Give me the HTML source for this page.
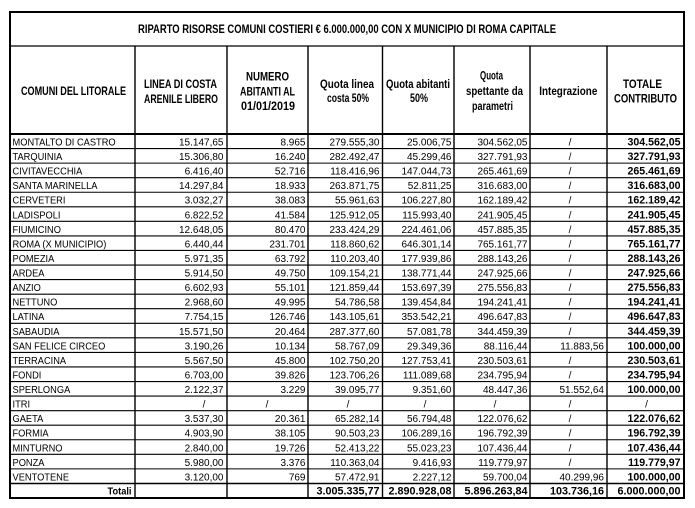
<!DOCTYPE html>
<html><head><meta charset="utf-8"><style>
html,body{margin:0;padding:0;background:#fff;}
svg{display:block;}
text{font-family:"Liberation Sans",Arial,sans-serif;fill:#000;}
.h{font-weight:bold;font-size:11.5px;}
.n{font-size:10px;}
.b{font-size:10.6px;font-weight:bold;}
</style></head><body>
<svg width="695" height="508" viewBox="0 0 695 508" xmlns="http://www.w3.org/2000/svg">
<rect x="0" y="0" width="695" height="508" fill="#fff"/>
<g stroke="#000" fill="none">
<line x1="10" y1="46" x2="684" y2="46" stroke-width="1.3"/>
<line x1="10" y1="134" x2="684" y2="134" stroke-width="2"/>
<g stroke-width="1.1">
<line x1="10" y1="148.56" x2="684" y2="148.56"/>
<line x1="10" y1="163.12" x2="684" y2="163.12"/>
<line x1="10" y1="177.68" x2="684" y2="177.68"/>
<line x1="10" y1="192.24" x2="684" y2="192.24"/>
<line x1="10" y1="206.8" x2="684" y2="206.8"/>
<line x1="10" y1="221.36" x2="684" y2="221.36"/>
<line x1="10" y1="235.92" x2="684" y2="235.92"/>
<line x1="10" y1="250.48" x2="684" y2="250.48"/>
<line x1="10" y1="265.04" x2="684" y2="265.04"/>
<line x1="10" y1="279.6" x2="684" y2="279.6"/>
<line x1="10" y1="294.16" x2="684" y2="294.16"/>
<line x1="10" y1="308.72" x2="684" y2="308.72"/>
<line x1="10" y1="323.28" x2="684" y2="323.28"/>
<line x1="10" y1="337.84" x2="684" y2="337.84"/>
<line x1="10" y1="352.4" x2="684" y2="352.4"/>
<line x1="10" y1="366.96" x2="684" y2="366.96"/>
<line x1="10" y1="381.52" x2="684" y2="381.52"/>
<line x1="10" y1="396.08" x2="684" y2="396.08"/>
<line x1="10" y1="410.64" x2="684" y2="410.64"/>
<line x1="10" y1="425.2" x2="684" y2="425.2"/>
<line x1="10" y1="439.76" x2="684" y2="439.76"/>
<line x1="10" y1="454.32" x2="684" y2="454.32"/>
<line x1="10" y1="468.88" x2="684" y2="468.88"/>
</g>
<line x1="10" y1="483.44" x2="684" y2="483.44" stroke-width="1.5"/>
<g stroke-width="1.4">
<line x1="135" y1="46" x2="135" y2="498"/>
<line x1="227" y1="46" x2="227" y2="498"/>
<line x1="308" y1="46" x2="308" y2="498"/>
<line x1="382.5" y1="46" x2="382.5" y2="498"/>
<line x1="454" y1="46" x2="454" y2="498"/>
<line x1="530" y1="46" x2="530" y2="498"/>
<line x1="607" y1="46" x2="607" y2="498"/>
</g>
<rect x="10" y="12" width="674" height="486" stroke-width="2"/>
</g>

<text class="h" x="347" y="33" text-anchor="middle" textLength="418" lengthAdjust="spacingAndGlyphs">RIPARTO RISORSE COMUNI COSTIERI € 6.000.000,00 CON X MUNICIPIO DI ROMA CAPITALE</text>

<text class="h" x="73.5" y="95" text-anchor="middle" textLength="105" lengthAdjust="spacingAndGlyphs">COMUNI DEL LITORALE</text>
<text class="h" x="180.5" y="88" text-anchor="middle" textLength="73" lengthAdjust="spacingAndGlyphs">LINEA DI COSTA</text>
<text class="h" x="181" y="103" text-anchor="middle" textLength="74" lengthAdjust="spacingAndGlyphs">ARENILE LIBERO</text>
<text class="h" x="267.5" y="80.5" text-anchor="middle" textLength="43" lengthAdjust="spacingAndGlyphs">NUMERO</text>
<text class="h" x="267.5" y="95.5" text-anchor="middle" textLength="55" lengthAdjust="spacingAndGlyphs">ABITANTI AL</text>
<text class="h" x="268" y="110" text-anchor="middle" textLength="54" lengthAdjust="spacingAndGlyphs">01/01/2019</text>
<text class="h" x="347" y="88" text-anchor="middle" textLength="54" lengthAdjust="spacingAndGlyphs">Quota linea</text>
<text class="h" x="348" y="102" text-anchor="middle" textLength="42" lengthAdjust="spacingAndGlyphs">costa 50%</text>
<text class="h" x="418" y="88" text-anchor="middle" textLength="64" lengthAdjust="spacingAndGlyphs">Quota abitanti</text>
<text class="h" x="419" y="102" text-anchor="middle" textLength="18" lengthAdjust="spacingAndGlyphs">50%</text>
<text class="h" x="491.5" y="79.5" text-anchor="middle" textLength="23" lengthAdjust="spacingAndGlyphs">Quota</text>
<text class="h" x="494.5" y="95" text-anchor="middle" textLength="57" lengthAdjust="spacingAndGlyphs">spettante da</text>
<text class="h" x="492.5" y="110" text-anchor="middle" textLength="41" lengthAdjust="spacingAndGlyphs">parametri</text>
<text class="h" x="568.3" y="95" text-anchor="middle" textLength="58" lengthAdjust="spacingAndGlyphs">Integrazione</text>
<text class="h" x="642.5" y="88" text-anchor="middle" textLength="39" lengthAdjust="spacingAndGlyphs">TOTALE</text>
<text class="h" x="645.5" y="102.5" text-anchor="middle" textLength="63" lengthAdjust="spacingAndGlyphs">CONTRIBUTO</text>

<g transform="translate(12.5,0) scale(0.91,1)" style="font-size:10.2px">
<text x="0" y="145.5">MONTALTO DI CASTRO</text>
<text x="0" y="160">TARQUINIA</text>
<text x="0" y="174.6">CIVITAVECCHIA</text>
<text x="0" y="189.2">SANTA MARINELLA</text>
<text x="0" y="203.7">CERVETERI</text>
<text x="0" y="218.3">LADISPOLI</text>
<text x="0" y="232.9">FIUMICINO</text>
<text x="0" y="247.4">ROMA (X MUNICIPIO)</text>
<text x="0" y="262">POMEZIA</text>
<text x="0" y="276.5">ARDEA</text>
<text x="0" y="291.1">ANZIO</text>
<text x="0" y="305.7">NETTUNO</text>
<text x="0" y="320.2">LATINA</text>
<text x="0" y="334.8">SABAUDIA</text>
<text x="0" y="349.4">SAN FELICE CIRCEO</text>
<text x="0" y="363.9">TERRACINA</text>
<text x="0" y="378.5">FONDI</text>
<text x="0" y="393">SPERLONGA</text>
<text x="0" y="407.6">ITRI</text>
<text x="0" y="422.2">GAETA</text>
<text x="0" y="436.7">FORMIA</text>
<text x="0" y="451.3">MINTURNO</text>
<text x="0" y="465.9">PONZA</text>
<text x="0" y="480.4">VENTOTENE</text>
</g>
<text class="b" x="131.5" y="494.3" text-anchor="end" textLength="24" lengthAdjust="spacingAndGlyphs" style="font-size:10.5px">Totali</text>

<g class="n" text-anchor="end">
<text x="223.5" y="145.5">15.147,65</text>
<text x="223.5" y="160">15.306,80</text>
<text x="223.5" y="174.6">6.416,40</text>
<text x="223.5" y="189.2">14.297,84</text>
<text x="223.5" y="203.7">3.032,27</text>
<text x="223.5" y="218.3">6.822,52</text>
<text x="223.5" y="232.9">12.648,05</text>
<text x="223.5" y="247.4">6.440,44</text>
<text x="223.5" y="262">5.971,35</text>
<text x="223.5" y="276.5">5.914,50</text>
<text x="223.5" y="291.1">6.602,93</text>
<text x="223.5" y="305.7">2.968,60</text>
<text x="223.5" y="320.2">7.754,15</text>
<text x="223.5" y="334.8">15.571,50</text>
<text x="223.5" y="349.4">3.190,26</text>
<text x="223.5" y="363.9">5.567,50</text>
<text x="223.5" y="378.5">6.703,00</text>
<text x="223.5" y="393">2.122,37</text>
<text x="223.5" y="422.2">3.537,30</text>
<text x="223.5" y="436.7">4.903,90</text>
<text x="223.5" y="451.3">2.840,00</text>
<text x="223.5" y="465.9">5.980,00</text>
<text x="223.5" y="480.4">3.120,00</text>
</g>
<g class="n" text-anchor="end">
<text x="305.5" y="145.5">8.965</text>
<text x="305.5" y="160">16.240</text>
<text x="305.5" y="174.6">52.716</text>
<text x="305.5" y="189.2">18.933</text>
<text x="305.5" y="203.7">38.083</text>
<text x="305.5" y="218.3">41.584</text>
<text x="305.5" y="232.9">80.470</text>
<text x="305.5" y="247.4">231.701</text>
<text x="305.5" y="262">63.792</text>
<text x="305.5" y="276.5">49.750</text>
<text x="305.5" y="291.1">55.101</text>
<text x="305.5" y="305.7">49.995</text>
<text x="305.5" y="320.2">126.746</text>
<text x="305.5" y="334.8">20.464</text>
<text x="305.5" y="349.4">10.134</text>
<text x="305.5" y="363.9">45.800</text>
<text x="305.5" y="378.5">39.826</text>
<text x="305.5" y="393">3.229</text>
<text x="305.5" y="422.2">20.361</text>
<text x="305.5" y="436.7">38.105</text>
<text x="305.5" y="451.3">19.726</text>
<text x="305.5" y="465.9">3.376</text>
<text x="305.5" y="480.4">769</text>
</g>
<g class="n" text-anchor="end">
<text x="379.5" y="145.5">279.555,30</text>
<text x="379.5" y="160">282.492,47</text>
<text x="379.5" y="174.6">118.416,96</text>
<text x="379.5" y="189.2">263.871,75</text>
<text x="379.5" y="203.7">55.961,63</text>
<text x="379.5" y="218.3">125.912,05</text>
<text x="379.5" y="232.9">233.424,29</text>
<text x="379.5" y="247.4">118.860,62</text>
<text x="379.5" y="262">110.203,40</text>
<text x="379.5" y="276.5">109.154,21</text>
<text x="379.5" y="291.1">121.859,44</text>
<text x="379.5" y="305.7">54.786,58</text>
<text x="379.5" y="320.2">143.105,61</text>
<text x="379.5" y="334.8">287.377,60</text>
<text x="379.5" y="349.4">58.767,09</text>
<text x="379.5" y="363.9">102.750,20</text>
<text x="379.5" y="378.5">123.706,26</text>
<text x="379.5" y="393">39.095,77</text>
<text x="379.5" y="422.2">65.282,14</text>
<text x="379.5" y="436.7">90.503,23</text>
<text x="379.5" y="451.3">52.413,22</text>
<text x="379.5" y="465.9">110.363,04</text>
<text x="379.5" y="480.4">57.472,91</text>
</g>
<g class="n" text-anchor="end">
<text x="451.5" y="145.5">25.006,75</text>
<text x="451.5" y="160">45.299,46</text>
<text x="451.5" y="174.6">147.044,73</text>
<text x="451.5" y="189.2">52.811,25</text>
<text x="451.5" y="203.7">106.227,80</text>
<text x="451.5" y="218.3">115.993,40</text>
<text x="451.5" y="232.9">224.461,06</text>
<text x="451.5" y="247.4">646.301,14</text>
<text x="451.5" y="262">177.939,86</text>
<text x="451.5" y="276.5">138.771,44</text>
<text x="451.5" y="291.1">153.697,39</text>
<text x="451.5" y="305.7">139.454,84</text>
<text x="451.5" y="320.2">353.542,21</text>
<text x="451.5" y="334.8">57.081,78</text>
<text x="451.5" y="349.4">29.349,36</text>
<text x="451.5" y="363.9">127.753,41</text>
<text x="451.5" y="378.5">111.089,68</text>
<text x="451.5" y="393">9.351,60</text>
<text x="451.5" y="422.2">56.794,48</text>
<text x="451.5" y="436.7">106.289,16</text>
<text x="451.5" y="451.3">55.023,23</text>
<text x="451.5" y="465.9">9.416,93</text>
<text x="451.5" y="480.4">2.227,12</text>
</g>
<g class="n" text-anchor="end">
<text x="527.5" y="145.5">304.562,05</text>
<text x="527.5" y="160">327.791,93</text>
<text x="527.5" y="174.6">265.461,69</text>
<text x="527.5" y="189.2">316.683,00</text>
<text x="527.5" y="203.7">162.189,42</text>
<text x="527.5" y="218.3">241.905,45</text>
<text x="527.5" y="232.9">457.885,35</text>
<text x="527.5" y="247.4">765.161,77</text>
<text x="527.5" y="262">288.143,26</text>
<text x="527.5" y="276.5">247.925,66</text>
<text x="527.5" y="291.1">275.556,83</text>
<text x="527.5" y="305.7">194.241,41</text>
<text x="527.5" y="320.2">496.647,83</text>
<text x="527.5" y="334.8">344.459,39</text>
<text x="527.5" y="349.4">88.116,44</text>
<text x="527.5" y="363.9">230.503,61</text>
<text x="527.5" y="378.5">234.795,94</text>
<text x="527.5" y="393">48.447,36</text>
<text x="527.5" y="422.2">122.076,62</text>
<text x="527.5" y="436.7">196.792,39</text>
<text x="527.5" y="451.3">107.436,44</text>
<text x="527.5" y="465.9">119.779,97</text>
<text x="527.5" y="480.4">59.700,04</text>
</g>
<g class="n" text-anchor="middle">
<text x="570" y="145.5">/</text>
<text x="570" y="160">/</text>
<text x="570" y="174.6">/</text>
<text x="570" y="189.2">/</text>
<text x="570" y="203.7">/</text>
<text x="570" y="218.3">/</text>
<text x="570" y="232.9">/</text>
<text x="570" y="247.4">/</text>
<text x="570" y="262">/</text>
<text x="570" y="276.5">/</text>
<text x="570" y="291.1">/</text>
<text x="570" y="305.7">/</text>
<text x="570" y="320.2">/</text>
<text x="570" y="334.8">/</text>
<text x="570" y="363.9">/</text>
<text x="570" y="378.5">/</text>
<text x="570" y="422.2">/</text>
<text x="570" y="436.7">/</text>
<text x="570" y="451.3">/</text>
<text x="570" y="465.9">/</text>
</g>
<g class="n" text-anchor="end">
<text x="604" y="349.4">11.883,56</text>
<text x="604" y="393">51.552,64</text>
<text x="604" y="480.4">40.299,96</text>
</g>
<g class="n" text-anchor="middle">
<text x="204" y="407.6">/</text>
<text x="267" y="407.6">/</text>
<text x="348" y="407.6">/</text>
<text x="425" y="407.6">/</text>
<text x="495" y="407.6">/</text>
<text x="570" y="407.6">/</text>
<text x="646.5" y="407.6">/</text>
</g>
<g class="b" text-anchor="end">
<text x="680.5" y="145.5">304.562,05</text>
<text x="680.5" y="160">327.791,93</text>
<text x="680.5" y="174.6">265.461,69</text>
<text x="680.5" y="189.2">316.683,00</text>
<text x="680.5" y="203.7">162.189,42</text>
<text x="680.5" y="218.3">241.905,45</text>
<text x="680.5" y="232.9">457.885,35</text>
<text x="680.5" y="247.4">765.161,77</text>
<text x="680.5" y="262">288.143,26</text>
<text x="680.5" y="276.5">247.925,66</text>
<text x="680.5" y="291.1">275.556,83</text>
<text x="680.5" y="305.7">194.241,41</text>
<text x="680.5" y="320.2">496.647,83</text>
<text x="680.5" y="334.8">344.459,39</text>
<text x="680.5" y="349.4">100.000,00</text>
<text x="680.5" y="363.9">230.503,61</text>
<text x="680.5" y="378.5">234.795,94</text>
<text x="680.5" y="393">100.000,00</text>
<text x="680.5" y="422.2">122.076,62</text>
<text x="680.5" y="436.7">196.792,39</text>
<text x="680.5" y="451.3">107.436,44</text>
<text x="680.5" y="465.9">119.779,97</text>
<text x="680.5" y="480.4">100.000,00</text>
</g>
<g class="b" text-anchor="end" style="font-size:10.8px">
<text x="379.5" y="494.3">3.005.335,77</text>
<text x="451.5" y="494.3">2.890.928,08</text>
<text x="527.5" y="494.3">5.896.263,84</text>
<text x="604" y="494.3">103.736,16</text>
<text x="680.5" y="494.3">6.000.000,00</text>
</g>
</svg>
</body></html>
